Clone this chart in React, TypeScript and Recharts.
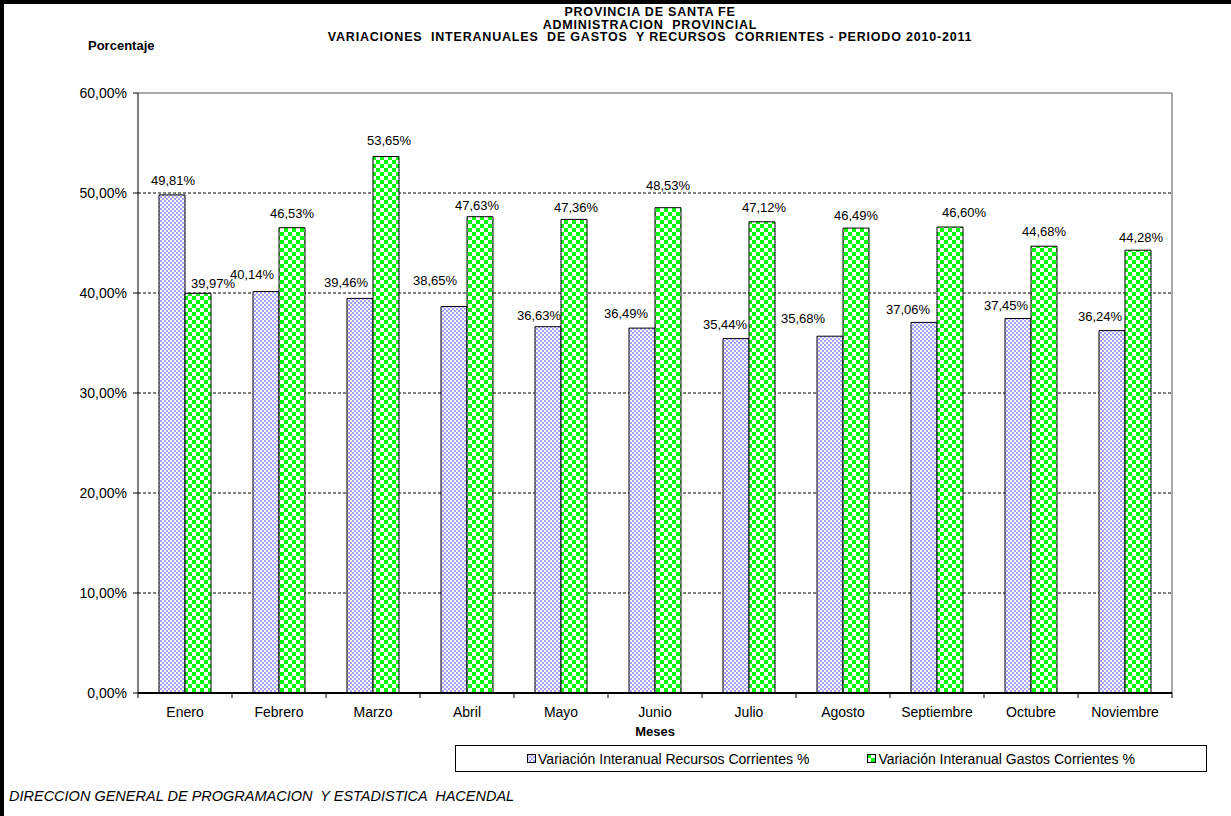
import React from 'react';
import { BarChart, Bar, XAxis, YAxis, CartesianGrid, LabelList, Legend } from 'recharts';

const months = ['Enero', 'Febrero', 'Marzo', 'Abril', 'Mayo', 'Junio', 'Julio', 'Agosto', 'Septiembre', 'Octubre', 'Noviembre'];
const recursos = [49.81, 40.14, 39.46, 38.65, 36.63, 36.49, 35.44, 35.68, 37.06, 37.45, 36.24];
const gastos = [39.97, 46.53, 53.65, 47.63, 47.36, 48.53, 47.12, 46.49, 46.60, 44.68, 44.28];
const yTicks = [0, 10, 20, 30, 40, 50, 60];
const seriesNames = ['Variación Interanual Recursos Corrientes %', 'Variación Interanual Gastos Corrientes %'];

// label nudges (style only)
const recShiftX = [1, -14, -14, -19, -9, -16, -11, -27, -16, -12, -12];
const recLift = [14, 17, 16, 26, 11, 15, 14, 18, 13, 13, 14];
const gasShiftX = [15, 0, 3, -3, 2, 0, 2, 0, 14, 0, 3];
const gasLift = [10, 14, 16, 11, 12, 22, 14, 13, 15, 15, 13];

const data = months.map((m, i) => ({ mes: m, recursos: recursos[i], gastos: gastos[i] }));

const FONT = '"Liberation Sans", Arial, Helvetica, sans-serif';
const W = 1231;
const H = 816;
const M = { top: 93, right: 59, bottom: 93, left: 0 };
const YW = 138;
const XH = 30;
const PLOT_W = W - M.left - M.right - YW;

const fmt = (v: number) => v.toFixed(2).replace('.', ',') + '%';

const makeLabel = (shift: number[], lift: number[]) => (props: any) => {
  const { x, y, width, index, value } = props;
  return (
    <text
      x={x + width / 2 + shift[index]}
      y={y - lift[index]}
      textAnchor="middle"
      dominantBaseline="central"
      fontSize={13}
      fontFamily={FONT}
      fill="#000"
    >
      {fmt(value)}
    </text>
  );
};

const XTick = (props: any) => {
  const { x, y, payload, index } = props;
  const step = PLOT_W / months.length;
  return (
    <g>
      <line x1={x - step / 2} x2={x - step / 2} y1={y} y2={y + 5} stroke="#000" strokeWidth={1} />
      {index === months.length - 1 && (
        <line x1={x + step / 2} x2={x + step / 2} y1={y} y2={y + 5} stroke="#000" strokeWidth={1} />
      )}
      <text x={x} y={y + 19} textAnchor="middle" dominantBaseline="central" fontSize={14} fontFamily={FONT} fill="#000">
        {payload.value}
      </text>
    </g>
  );
};

const LegendBox = () => (
  <div
    style={{
      boxSizing: 'border-box',
      width: 752,
      height: 27,
      border: '1px solid #000',
      background: '#fff',
      display: 'flex',
      alignItems: 'center',
      justifyContent: 'center',
      gap: 58,
      fontFamily: FONT,
      fontSize: 14,
      color: '#000',
    }}
  >
    {seriesNames.map((n, i) => (
      <div key={n} style={{ display: 'flex', alignItems: 'center' }}>
        <svg width={9} height={9} style={{ marginRight: 2 }}>
          <rect x={0.5} y={0.5} width={8} height={8} fill={i === 0 ? 'url(#patRec)' : 'url(#patGas)'} stroke="#000" />
        </svg>
        <span style={{ whiteSpace: 'pre' }}>{n}</span>
      </div>
    ))}
  </div>
);

export default function App() {
  return (
    <div
      style={{
        position: 'absolute',
        left: 0,
        top: 0,
        width: W,
        height: H,
        background: '#fff',
        fontFamily: FONT,
        overflow: 'hidden',
      }}
    >
      <div style={{ position: 'absolute', left: 0, top: 0, width: W, height: 4, background: '#000' }} />
      <div style={{ position: 'absolute', left: 0, top: 0, width: 4, height: H, background: '#000' }} />
      <div
        style={{
          position: 'absolute',
          left: 0,
          top: 6,
          width: 1300,
          textAlign: 'center',
          fontWeight: 'bold',
          fontSize: 12.5,
          lineHeight: '12.5px',
          letterSpacing: 0.8,
          whiteSpace: 'pre',
          color: '#000',
        }}
      >
        <div>PROVINCIA DE SANTA FE</div>
        <div>ADMINISTRACION  PROVINCIAL</div>
        <div>VARIACIONES  INTERANUALES  DE GASTOS  Y RECURSOS  CORRIENTES - PERIODO 2010-2011</div>
      </div>
      <div style={{ position: 'absolute', left: 88, top: 38, fontWeight: 'bold', fontSize: 13, color: '#000' }}>Porcentaje</div>
      <div
        style={{
          position: 'absolute',
          left: 9,
          top: 788,
          fontStyle: 'italic',
          fontSize: 14.5,
          whiteSpace: 'pre',
          color: '#000',
        }}
      >
        DIRECCION GENERAL DE PROGRAMACION  Y ESTADISTICA  HACENDAL
      </div>
      <div style={{ position: 'absolute', left: 0, top: 0 }}>
        <BarChart width={W} height={H} data={data} margin={M} barGap={0} barSize={26}>
          <defs>
            <pattern id="patRec" patternUnits="userSpaceOnUse" width={4} height={4}>
              <rect width={4} height={4} fill="#ffffff" />
              <rect width={2} height={2} fill="#a3a3ff" />
              <rect x={2} y={2} width={2} height={2} fill="#a3a3ff" />
            </pattern>
            <pattern id="patGas" patternUnits="userSpaceOnUse" width={8} height={8}>
              <rect width={8} height={8} fill="#ffffff" />
              <rect width={4} height={4} fill="#00ff00" />
              <rect x={4} y={4} width={4} height={4} fill="#00ff00" />
            </pattern>
          </defs>
          <CartesianGrid horizontal vertical={false} horizontalValues={[10, 20, 30, 40, 50]} stroke="#000" strokeDasharray="3 2" />
          <CartesianGrid
            horizontal
            horizontalValues={[60]}
            vertical
            verticalCoordinatesGenerator={(p: any) => [p.offset.left + p.offset.width]}
            stroke="#8c8c8c"
            strokeWidth={1.5}
          />
          <XAxis
            dataKey="mes"
            height={XH}
            tickLine={false}
            tickSize={0}
            tickMargin={0}
            axisLine={{ stroke: '#000', strokeWidth: 2 }}
            tick={<XTick />}
            interval={0}
            label={{ value: 'Meses', position: 'bottom', offset: 4, fontSize: 13, fontWeight: 'bold', fill: '#000', fontFamily: FONT }}
          />
          <YAxis
            width={YW}
            domain={[0, 60]}
            ticks={yTicks}
            tickFormatter={fmt}
            tickSize={5}
            tickMargin={6}
            axisLine={{ stroke: '#000' }}
            tickLine={{ stroke: '#000' }}
            tick={{ fontSize: 14, fill: '#000', fontFamily: FONT }}
            interval={0}
          />
          <Legend
            content={<LegendBox />}
            wrapperStyle={{ position: 'absolute', left: 455, top: 745, width: 752, height: 0 }}
          />
          <Bar dataKey="recursos" name={seriesNames[0]} fill="url(#patRec)" stroke="#000" strokeWidth={1} isAnimationActive={false}>
            <LabelList dataKey="recursos" content={makeLabel(recShiftX, recLift)} />
          </Bar>
          <Bar dataKey="gastos" name={seriesNames[1]} fill="url(#patGas)" stroke="#000" strokeWidth={1} isAnimationActive={false}>
            <LabelList dataKey="gastos" content={makeLabel(gasShiftX, gasLift)} />
          </Bar>
        </BarChart>
      </div>
    </div>
  );
}
